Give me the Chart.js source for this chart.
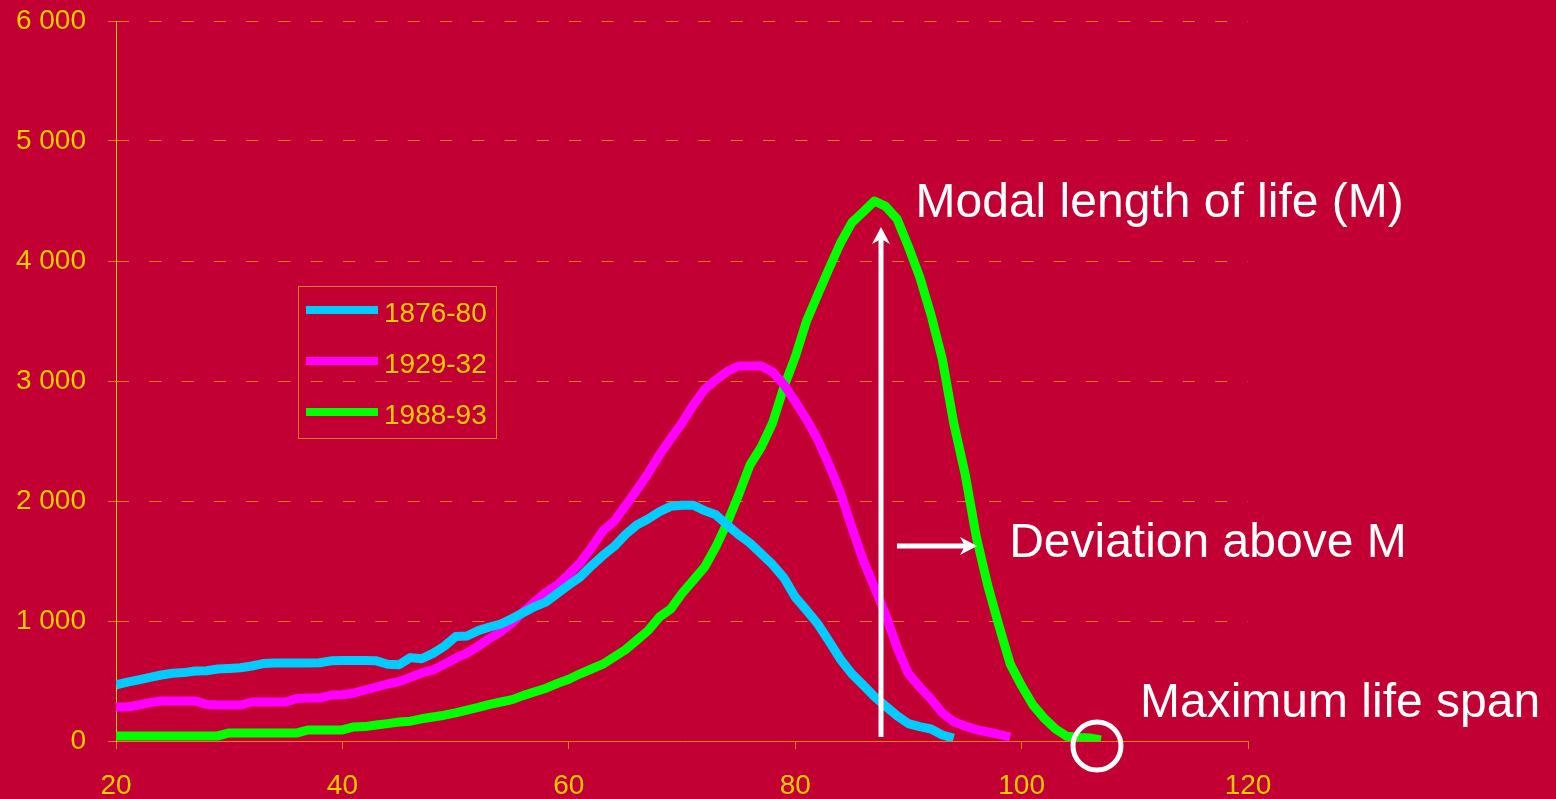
<!DOCTYPE html>
<html>
<head>
<meta charset="utf-8">
<script src="https://cdn.jsdelivr.net/npm/chart.js@4.4.1/dist/chart.umd.min.js"></script>
<style>
  html, body { margin: 0; padding: 0; background: #C30033; }
  #wrap { position: relative; width: 1556px; height: 799px; background: #C30033; }
</style>
</head>
<body>
<div id="wrap"><canvas id="c"></canvas></div>
<script>
// ---- Data (ages in years, deaths per 100 000) ----
const ages = [20,21,22,23,24,25,26,27,28,29,30,31,32,33,34,35,36,37,38,39,40,41,42,43,44,45,46,47,48,49,
  50,51,52,53,54,55,56,57,58,59,60,61,62,63,64,65,66,67,68,69,70,71,72,73,74,75,76,77,78,79,
  80,81,82,83,84,85,86,87,88,89,90,91,92,93,94,95,96,97,98,99,100,101,102,103,104,105,106,107];

const seriesLabels = ['1876-80', '1929-32', '1988-93'];

const deaths1876 = [467,490,510,530,550,565,570,583,585,600,605,610,625,645,650,650,650,650,652,668,
  670,670,670,668,640,635,695,685,730,790,870,875,920,950,975,1020,1070,1120,1160,1230,
  1300,1367,1460,1545,1620,1720,1800,1850,1910,1955,1965,1965,1920,1885,1800,1720,1650,1560,1470,1360,
  1200,1090,975,830,680,560,467,370,290,210,145,120,100,50,25];

const deaths1929 = [283,283,300,320,333,333,333,333,305,300,300,300,325,325,325,325,355,358,358,383,
  385,400,425,450,475,495,530,567,592,640,690,733,790,855,910,985,1080,1160,1240,1300,
  1390,1483,1610,1750,1830,1960,2090,2230,2383,2520,2650,2800,2930,3010,3080,3125,3125,3125,3075,2970,
  2830,2680,2510,2300,2070,1780,1508,1280,1050,780,560,450,350,233,160,125,95,75,55,33];

const deaths1988 = [42,42,42,42,42,42,42,42,42,42,67,67,67,67,67,67,67,92,92,92,
  92,117,120,133,145,158,165,185,200,215,235,258,280,305,325,345,380,410,440,480,
  515,560,600,640,700,760,840,920,1033,1100,1230,1340,1450,1620,1820,2050,2300,2450,2650,2950,
  3200,3500,3720,3940,4150,4320,4408,4500,4455,4350,4120,3867,3550,3180,2650,2230,1700,1300,960,640,
  460,300,190,100,40,30,25,8];

const yTicks = [0, 1000, 2000, 3000, 4000, 5000, 6000];
const xTicks = [20, 40, 60, 80, 100, 120];

// annotation anchors in data units
const modalAge = 87.58, modalArrowBase = 33, modalArrowTip = 4283;
const devArrowY = 1625, devArrowFrom = 88.99, devArrowTo = 96.06;
const maxSpanAge = 106.66, maxSpanVal = -42;
const notes = [
  { text: 'Modal length of life (M)', x: 90.63, y: 4369 },
  { text: 'Deviation above M', x: 98.9, y: 1536 },
  { text: 'Maximum life span', x: 110.46, y: 203 }
];

// ---- styles ----
const GOLD = '#FFCC00';
const GRID = '#EC7E1C';
const AXISX = '#EC821C';
const colors = ['#00CCFF', '#FF00FF', '#00FF00'];
const FONT = '"Liberation Sans", Arial, sans-serif';

function toPoints(vals) { return vals.map((v, i) => ({ x: ages[i], y: v })); }
const allSeries = [deaths1876, deaths1929, deaths1988];

const legendPlugin = {
  id: 'boxLegend',
  afterDatasetsDraw(chart) {
    const ctx = chart.ctx, a = chart.chartArea;
    const left = Math.round(a.left + 182) + 0.5, top = Math.round(a.top + 265) + 0.5, w = 198, h = 152;
    ctx.save();
    ctx.strokeStyle = GRID;
    ctx.lineWidth = 1;
    ctx.strokeRect(left, top, w, h);
    chart.data.datasets.forEach((ds, i) => {
      const cy = top + 23.5 + i * 51;
      ctx.strokeStyle = ds.borderColor;
      ctx.lineWidth = 8;
      ctx.lineCap = 'butt';
      ctx.beginPath();
      ctx.moveTo(left + 7.5, cy);
      ctx.lineTo(left + 79.5, cy);
      ctx.stroke();
      ctx.fillStyle = GOLD;
      ctx.font = '28px ' + FONT;
      ctx.textBaseline = 'middle';
      ctx.textAlign = 'left';
      ctx.fillText(ds.label, left + 85.5, cy + 4);
    });
    ctx.restore();
  }
};

function arrowHead(ctx, tx, ty, dx, dy, len, half, notch) {
  const px = -dy, py = dx;
  const bx = tx - dx * len, by = ty - dy * len;
  ctx.beginPath();
  ctx.moveTo(tx, ty);
  ctx.lineTo(bx + px * half, by + py * half);
  ctx.lineTo(tx - dx * (len - notch), ty - dy * (len - notch));
  ctx.lineTo(bx - px * half, by - py * half);
  ctx.closePath();
  ctx.fill();
}

const notePlugin = {
  id: 'notes',
  afterDatasetsDraw(chart) {
    const ctx = chart.ctx, xs = chart.scales.x, ys = chart.scales.y;
    ctx.save();
    ctx.strokeStyle = '#FFFFFF';
    ctx.fillStyle = '#FFFFFF';
    ctx.lineWidth = 5;
    ctx.lineCap = 'butt';
    const vx = xs.getPixelForValue(modalAge);
    const vb = ys.getPixelForValue(modalArrowBase);
    const vt = ys.getPixelForValue(modalArrowTip);
    ctx.beginPath(); ctx.moveTo(vx, vb); ctx.lineTo(vx, vt + 12); ctx.stroke();
    arrowHead(ctx, vx, vt, 0, -1, 17, 9, 5);
    const hy = ys.getPixelForValue(devArrowY);
    const h0 = xs.getPixelForValue(devArrowFrom);
    const h1 = xs.getPixelForValue(devArrowTo);
    ctx.beginPath(); ctx.moveTo(h0, hy); ctx.lineTo(h1 - 12, hy); ctx.stroke();
    arrowHead(ctx, h1, hy, 1, 0, 17, 9, 5);
    ctx.beginPath();
    ctx.arc(xs.getPixelForValue(maxSpanAge), ys.getPixelForValue(maxSpanVal), 24, 0, Math.PI * 2);
    ctx.stroke();
    ctx.font = '48px ' + FONT;
    ctx.textAlign = 'left';
    ctx.textBaseline = 'alphabetic';
    notes.forEach(n => ctx.fillText(n.text, xs.getPixelForValue(n.x), ys.getPixelForValue(n.y)));
    ctx.restore();
  }
};

new Chart(document.getElementById('c'), {
  type: 'line',
  data: {
    datasets: allSeries.map((vals, i) => ({
      label: seriesLabels[i],
      data: toPoints(vals),
      borderColor: colors[i],
      backgroundColor: colors[i],
      borderWidth: 9,
      pointRadius: 0,
      tension: 0,
      borderJoinStyle: 'round',
      borderCapStyle: 'butt',
      fill: false
    }))
  },
  options: {
    responsive: true,
    maintainAspectRatio: false,
    animation: false,
    layout: { padding: { top: 21, right: 308, left: 0, bottom: 0 } },
    plugins: { legend: { display: false }, tooltip: { enabled: false } },
    scales: {
      x: {
        type: 'linear',
        min: 20, max: 120,
        afterFit(s) { s.height = 58; s.paddingLeft = 0; s.paddingRight = 0; },
        afterBuildTicks(s) { s.ticks = xTicks.map(v => ({ value: v })); },
        grid: { display: true, drawOnChartArea: false, drawTicks: true, tickLength: 8, tickColor: AXISX, color: AXISX },
        border: { display: true, color: AXISX, width: 1 },
        ticks: { color: GOLD, font: { size: 28, family: FONT }, padding: 20, maxRotation: 0 }
      },
      y: {
        min: 0, max: 6000,
        afterFit(s) { s.width = 116; s.paddingTop = 0; s.paddingBottom = 0; },
        afterBuildTicks(s) { s.ticks = yTicks.map(v => ({ value: v })); },
        grid: { color: GRID, lineWidth: 1, tickLength: 8, tickColor: GRID, drawTicks: true },
        border: { display: true, color: GOLD, width: 1, dash: [12, 20.3] },
        ticks: {
          color: GOLD, font: { size: 28, family: FONT }, padding: 22,
          callback: v => String(v).replace(/\B(?=(\d{3})+(?!\d))/g, ' ')
        }
      }
    }
  },
  plugins: [legendPlugin, notePlugin]
});
</script>
</body>
</html>
